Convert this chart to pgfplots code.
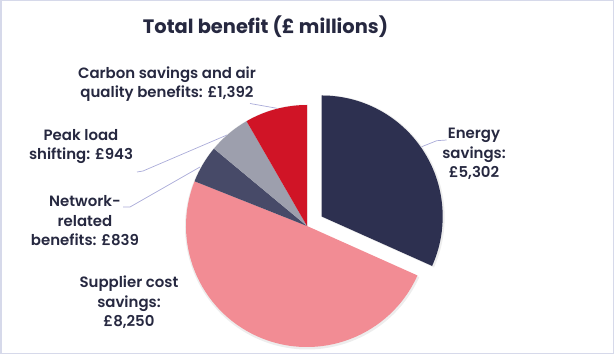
\documentclass[border=0pt]{standalone}
\usepackage{fontspec}
\setmainfont{Poppins}[BoldFont={Poppins Bold}]
\newfontfamily\semib{Poppins SemiBold}
\usepackage{pgfplots}
\pgfplotsset{compat=1.18}
\definecolor{cNavy}{HTML}{2D3050}
\definecolor{cPink}{HTML}{F28C94}
\definecolor{cSlate}{HTML}{474A68}
\definecolor{cGrey}{HTML}{9D9FAD}
\definecolor{cRed}{HTML}{D01426}
\definecolor{cText}{HTML}{262840}
\definecolor{cLine}{HTML}{A9ABD8}
\definecolor{cBorder}{HTML}{D6D9EA}
\begin{document}
\begin{tikzpicture}
% values (£ billions, i.e. £ millions / 1000)
\def\vE{5.302}\def\vS{8.250}\def\vN{0.839}\def\vP{0.943}\def\vC{1.392}
\pgfmathsetmacro\tot{\vE+\vS+\vN+\vP+\vC}
\pgfmathsetmacro\aA{90}
\pgfmathsetmacro\aB{\aA-360*\vE/\tot}
\pgfmathsetmacro\aC{\aB-360*\vS/\tot}
\pgfmathsetmacro\aD{\aC-360*\vN/\tot}
\pgfmathsetmacro\aE{\aD-360*\vP/\tot}
\pgfmathsetmacro\aF{\aE-360*\vC/\tot}
\pgfmathsetmacro\mid{(\aA+\aB)/2}
\pgfmathsetmacro\ex{307+17.5*cos(\mid)}
\pgfmathsetmacro\ey{128+17.5*sin(\mid)}
\begin{axis}[width=614bp,height=354bp,scale only axis,
  xmin=0,xmax=614,ymin=0,ymax=354,hide axis,clip=false]
% border
\draw[cBorder,line width=1.5bp] (axis cs:0.75,0.75) rectangle (axis cs:613.25,353.25);
% soft shadows
\fill[overlay,black,opacity=0.07] (axis cs:307.5,127) -- ++(\aB:122.5bp) arc[start angle=\aB,end angle=\aF,radius=122.5bp] -- cycle;
\fill[overlay,black,opacity=0.07] (axis cs:\ex+0.5,\ey-1) -- ++(\aA:122.5bp) arc[start angle=\aA,end angle=\aB,radius=122.5bp] -- cycle;
% slices
\fill[overlay,cNavy] (axis cs:\ex,\ey) -- ++(\aA:121bp) arc[start angle=\aA,end angle=\aB,radius=121bp] -- cycle;
\fill[overlay,cPink] (axis cs:307,128) -- ++(\aB:121bp) arc[start angle=\aB,end angle=\aC,radius=121bp] -- cycle;
\fill[overlay,cSlate] (axis cs:307,128) -- ++(\aC:121bp) arc[start angle=\aC,end angle=\aD,radius=121bp] -- cycle;
\fill[overlay,cGrey] (axis cs:307,128) -- ++(\aD:121bp) arc[start angle=\aD,end angle=\aE,radius=121bp] -- cycle;
\fill[overlay,cRed] (axis cs:307,128) -- ++(\aE:121bp) arc[start angle=\aE,end angle=\aF,radius=121bp] -- cycle;
% leader lines
\draw[cLine,line width=0.7bp] (axis cs:446.7,214) -- (axis cs:436.7,213.3) -- (axis cs:421.7,207.3);
\draw[cLine,line width=0.7bp] (axis cs:250,250.5) -- (axis cs:277,245.7);
\draw[cLine,line width=0.7bp] (axis cs:137,182) -- (axis cs:143,183) -- (axis cs:227,219);
\draw[cLine,line width=0.7bp] (axis cs:123,147) -- (axis cs:130,147) -- (axis cs:200,187);
% title
\node[text=cText,font=\fontsize{19.5}{24}\selectfont\bfseries] at (axis cs:265.5,327) {Total benefit (£ millions)};
% labels
\tikzset{lab/.style={text=cText,align=center,inner sep=0pt,font=\fontsize{15}{19.5}\selectfont\semib}}
\node[lab] at (axis cs:167,270) {Carbon savings and air\\quality benefits: £1,392};
\node[lab] at (axis cs:81,207.5) {Peak load\\shifting: £943};
\node[lab] at (axis cs:85,133) {Network-\\related\\benefits: £839};
\node[lab] at (axis cs:129,51.5) {Supplier cost\\savings:\\£8,250};
\node[lab] at (axis cs:474,200) {Energy\\savings:\\£5,302};
\end{axis}
\end{tikzpicture}
\end{document}
